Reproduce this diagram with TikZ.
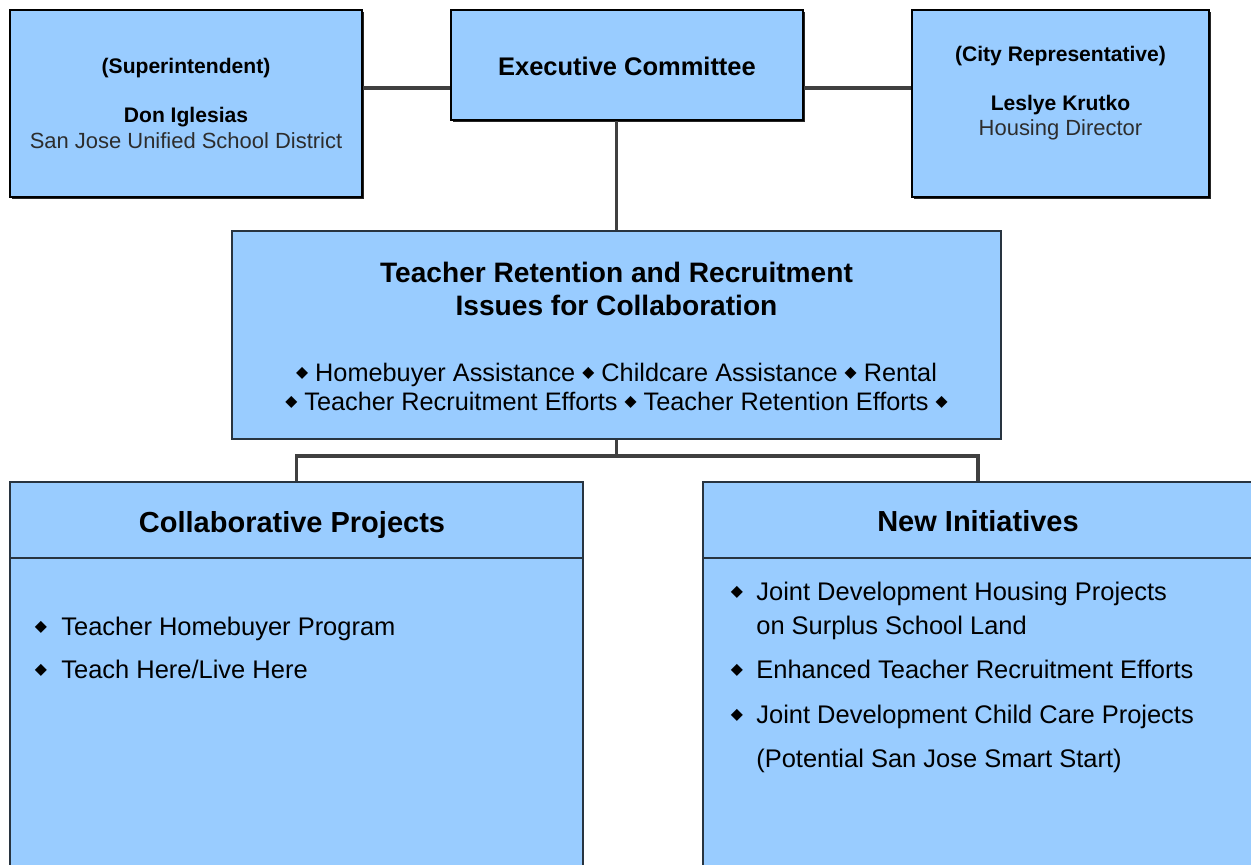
\documentclass[tikz,border=0pt]{standalone}
\usepackage{fontspec}
\usepackage{graphicx}
\usepackage{xcolor}
\setmainfont{Liberation Sans}
\newfontfamily\dejavu{DejaVu Sans}
\usetikzlibrary{shadows}
\definecolor{boxblue}{RGB}{153,204,255}
\definecolor{linegray}{RGB}{64,64,64}
\definecolor{edgegray}{RGB}{40,52,64}
\definecolor{subgray}{RGB}{45,45,45}
\newcommand{\fs}[1]{\fontsize{#1}{#1}\selectfont}
\newcommand{\dmd}{\raisebox{.12em}{\dejavu\scalebox{.62}{◆}}}
\tikzset{topbox/.style={draw=black, line width=1.3pt, fill=boxblue,
   drop shadow={shadow xshift=.045cm, shadow yshift=-.045cm, fill=black!85, opacity=1}},
 lowbox/.style={draw=edgegray, line width=.8pt, fill=boxblue},
 link/.style={draw=linegray, line width=1.9pt},
 txt/.style={inner sep=0pt, anchor=base},
 listline/.style={inner sep=0pt, anchor=base west, font=\fs{14.5pt}},
 }

\begin{document}
\begin{tikzpicture}[x=0.02cm, y=-0.02cm]
        \useasboundingbox (0,0) rectangle (1251,865);
        \node[topbox, minimum width=7.04cm, minimum height=3.74cm] (supt) at (186,103.5) {};
        \node[topbox, minimum width=7.04cm, minimum height=2.2cm] (exec) at (627,65) {};
        \node[topbox, minimum width=5.94cm, minimum height=3.74cm] (city) at (1060.5,103.5) {};
        \node[lowbox, minimum width=15.38cm, minimum height=4.16cm] (issues) at (616.5,335) {};
        \node[lowbox, minimum width=11.46cm, minimum height=7.72cm] (collab) at (296.5,675) {};
        \node[lowbox, minimum width=11cm, minimum height=7.72cm] (newinit) at (978,675) {};
        \draw[draw=edgegray, line width=.8pt] (collab.west |- 0,558) -- (collab.east |- 0,558);
        \draw[draw=edgegray, line width=.8pt] (newinit.west |- 0,558) -- (newinit.east |- 0,558);

        \coordinate (top) at (0,88);
        \coordinate (bus) at (617,456);
        \draw[link] (supt.east |- top) -- (exec.west |- top);
        \draw[link] (exec.east |- top) -- (city.west |- top);
        \draw[link] (issues.north) -- (issues.north |- exec.south);
        \draw[link] (issues.south) -- (issues.south |- bus);
        \draw[link] (collab.north) |- (bus) -| (newinit.north);

        \node[txt, font=\bfseries\fs{12pt}] (suptrole) at (186,74) {(Superintendent)};
        \node[txt, font=\bfseries\fs{12pt}] (suptname) at (186,123) {Don Iglesias};
        \node[txt, font=\fs{12.5pt}, text=subgray] (suptorg) at (186,149) {San Jose Unified School District};
        \node[txt, font=\bfseries\fs{14.5pt}] (exectitle) at (627,76) {Executive Committee};
        \node[txt, font=\bfseries\fs{12pt}] (cityrole) at (1060.5,62) {(City Representative)};
        \node[txt, font=\bfseries\fs{12pt}] (cityname) at (1060.5,111) {Leslye Krutko};
        \node[txt, font=\fs{12.5pt}, text=subgray] (cityjob) at (1060.5,135) {Housing Director};

        \node[txt, font=\bfseries\fs{16pt}] (issuesa) at (616.5,282) {Teacher Retention and Recruitment};
        \node[txt, font=\bfseries\fs{16pt}] (issuesb) at (616.5,315) {Issues for Collaboration};
        \node[txt, font=\fs{14.4pt}] (issuesc) at (616.5,381) {\dmd{} Homebuyer Assistance \dmd{} Childcare Assistance \dmd{} Rental};
        \node[txt, font=\fs{14.4pt}] (issuesd) at (616.5,410) {\dmd{} Teacher Recruitment Efforts \dmd{} Teacher Retention Efforts \dmd{}};

        \node[txt, font=\bfseries\fs{16.5pt}] (collabhead) at (292,532) {Collaborative Projects};
        \node[txt, font=\bfseries\fs{16.5pt}] (newhead) at (978,531) {New Initiatives};

        \foreach \y/\t in {635/{Teacher Homebuyer Program}, 678/{Teach Here/Live Here}} {
            \node[listline] at (61,\y) {\t};
            \node[txt, font=\fs{14.5pt}] at (41,\y) {\dmd};
        }
        \foreach \y/\t in {600/{Joint Development Housing Projects}, 678/{Enhanced Teacher Recruitment Efforts}, 723/{Joint Development Child Care Projects}} {
            \node[listline] at (756,\y) {\t};
            \node[txt, font=\fs{14.5pt}] at (737,\y) {\dmd};
        }
        \node[listline] (surplus) at (756,634) {on Surplus School Land};
        \node[listline] (smartstart) at (756,767) {(Potential San Jose Smart Start)};
    \end{tikzpicture}
\end{document}
